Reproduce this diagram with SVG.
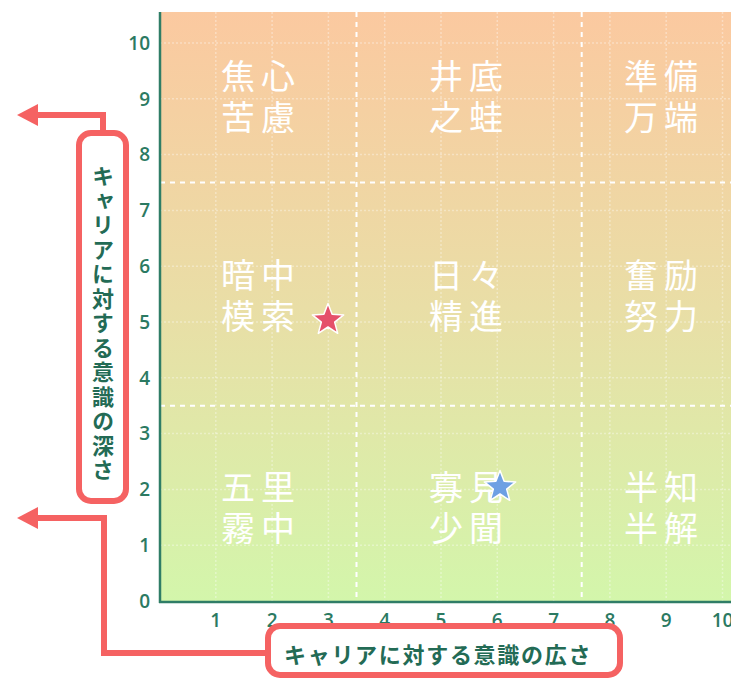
<svg xmlns="http://www.w3.org/2000/svg" width="731" height="680" viewBox="0 0 731 680">
<style>
.grid{stroke:#ffffff;stroke-opacity:.35;stroke-width:1.5;stroke-dasharray:2 2;fill:none}
.quad{stroke:#ffffff;stroke-width:2;stroke-dasharray:5 5;fill:none}
.axis{stroke:#2f7d66;stroke-width:2.5;fill:none}
.tick{font-family:"Open Sans","Noto Sans",sans-serif;font-size:19px;font-weight:600;fill:#2b7a62}
.cell{font-family:"Noto Sans CJK JP","Noto Sans",sans-serif;font-size:34px;fill:#ffffff;letter-spacing:6px}
.lbl{font-family:"Noto Sans CJK JP","Noto Sans",sans-serif;font-size:22px;font-weight:bold;fill:#236b55}
.box{fill:#ffffff;stroke:#f56262;stroke-width:6}
.conn{fill:none;stroke:#f56262;stroke-width:6;stroke-linejoin:miter}
.star{stroke:#ffffff;stroke-width:1.5;stroke-linejoin:round}
</style>
<defs>
<linearGradient id="bg" x1="0" y1="0" x2="0" y2="1">
<stop offset="0" stop-color="#fbc9a0"/>
<stop offset="0.5" stop-color="#e9dea6"/>
<stop offset="1" stop-color="#d3f6ab"/>
</linearGradient>
<marker id="arr" markerUnits="userSpaceOnUse" markerWidth="22" markerHeight="22" viewBox="0 0 21 22" refX="0" refY="11" orient="auto">
<path d="M0,0 L21,11 L0,22 z" fill="#f56262"/>
</marker>
<path id="starShape" d="M0,-16.5 L4.11,-5.66 L15.69,-5.1 L6.66,2.16 L9.7,13.35 L0,7 L-9.7,13.35 L-6.66,2.16 L-15.69,-5.1 L-4.11,-5.66 Z"/>
</defs>

<g id="plot">
<rect x="159.5" y="12" width="572" height="590" fill="url(#bg)"/>
<g id="grid">
<path class="grid" d="M215.8,12V602M272.1,12V602M328.4,12V602M384.7,12V602M441,12V602M497.3,12V602M553.6,12V602M609.9,12V602M666.2,12V602M722.5,12V602"/>
<path class="grid" d="M160,545.2H731M160,489.4H731M160,433.6H731M160,377.8H731M160,322H731M160,266.2H731M160,210.4H731M160,154.6H731M160,98.8H731M160,43H731"/>
</g>
<path class="quad" d="M356.5,12V602M581.7,12V602M160,182.5H731M160,405.7H731"/>
<path class="axis" d="M160,12V603M159,602H731"/>
</g>

<g id="y-ticks" class="tick" text-anchor="end">
<text x="150" y="607.8">0</text>
<text x="150" y="552">1</text>
<text x="150" y="496.2">2</text>
<text x="150" y="440.4">3</text>
<text x="150" y="384.6">4</text>
<text x="150" y="328.8">5</text>
<text x="150" y="273">6</text>
<text x="150" y="217.2">7</text>
<text x="150" y="161.4">8</text>
<text x="150" y="105.6">9</text>
<text x="150" y="49.8">10</text>
</g>
<g id="x-ticks" class="tick" text-anchor="middle">
<text x="215.8" y="627">1</text>
<text x="272.1" y="627">2</text>
<text x="328.4" y="627">3</text>
<text x="384.7" y="627">4</text>
<text x="441" y="627">5</text>
<text x="497.3" y="627">6</text>
<text x="553.6" y="627">7</text>
<text x="609.9" y="627">8</text>
<text x="666.2" y="627">9</text>
<text x="722.5" y="627">10</text>
</g>

<g id="cell-shoushin"><text class="cell" x="221" y="89">焦心<tspan x="221" dy="41">苦慮</tspan></text></g>
<g id="cell-seitei"><text class="cell" x="429" y="89">井底<tspan x="429" dy="41">之蛙</tspan></text></g>
<g id="cell-junbi"><text class="cell" x="624" y="89">準備<tspan x="624" dy="41">万端</tspan></text></g>
<g id="cell-anchu"><text class="cell" x="221" y="288">暗中<tspan x="221" dy="41">模索</tspan></text></g>
<g id="cell-nichinichi"><text class="cell" x="429" y="288">日々<tspan x="429" dy="41">精進</tspan></text></g>
<g id="cell-funrei"><text class="cell" x="624" y="288">奮励<tspan x="624" dy="41">努力</tspan></text></g>
<g id="cell-gori"><text class="cell" x="221" y="500">五里<tspan x="221" dy="41">霧中</tspan></text></g>
<g id="cell-kaken"><text class="cell" x="429" y="500">寡見<tspan x="429" dy="41">少聞</tspan></text></g>
<g id="cell-hanchi"><text class="cell" x="624" y="500">半知<tspan x="624" dy="41">半解</tspan></text></g>

<g id="star-red"><use href="#starShape" class="star" fill="#e5506a" transform="translate(328,320)"/></g>
<g id="star-blue"><use href="#starShape" class="star" fill="#6ea0e3" transform="translate(500,487)"/></g>

<g id="connectors">
<path class="conn" d="M103,131V115H38" marker-end="url(#arr)"/>
<path class="conn" d="M266,653H104V518H38" marker-end="url(#arr)"/>
</g>

<g id="y-label">
<rect class="box" x="79" y="133" width="47" height="368" rx="12"/>
<text class="lbl" x="103" y="324" text-anchor="middle" style="writing-mode:vertical-rl;letter-spacing:2.5px">キャリアに対する意識の深さ</text>
</g>
<g id="x-label">
<rect class="box" x="268" y="626" width="352" height="49" rx="12"/>
<text class="lbl" x="284" y="663" style="letter-spacing:1.7px">キャリアに対する意識の広さ</text>
</g>
</svg>
